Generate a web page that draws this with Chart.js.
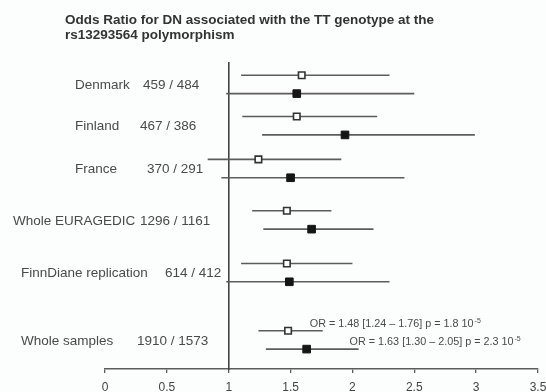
<!DOCTYPE html>
<html>
<head>
<meta charset="utf-8">
<script src="https://cdn.jsdelivr.net/npm/chart.js@4.4.0/dist/chart.umd.min.js"></script>
<style>
  html, body { margin: 0; padding: 0; background: #fcfdfd; }
  #wrap { width: 546px; height: 392px; position: relative; }
</style>
</head>
<body>
<div id="wrap"><canvas id="forest"></canvas></div>
<script>
const titleLines = ['Odds Ratio for DN associated with the TT genotype at the', 'rs13293564 polymorphism'];
const groups = ['Denmark', 'Finland', 'France', 'Whole EURAGEDIC', 'FinnDiane replication', 'Whole samples'];
const counts = ['459 / 484', '467 / 386', '370 / 291', '1296 / 1161', '614 / 412', '1910 / 1573'];
// row value on the y scale (0 = bottom, 10 = top)
const rowY = [9.3, 7.95, 6.55, 4.87, 3.15, 0.95];

// open squares (upper line of each pair)
const openOR = [1.59, 1.55, 1.24, 1.47, 1.47, 1.48];
const openLow = [1.10, 1.11, 0.83, 1.19, 1.10, 1.24];
const openHigh = [2.30, 2.20, 1.91, 1.83, 2.00, 1.76];

// filled squares (lower line of each pair)
const fillOR = [1.55, 1.94, 1.50, 1.67, 1.49, 1.63];
const fillLow = [0.98, 1.27, 0.94, 1.28, 0.98, 1.30];
const fillHigh = [2.50, 2.99, 2.42, 2.17, 2.30, 2.05];

const xTicks = [0, 0.5, 1, 1.5, 2, 2.5, 3, 3.5];
const xTickLabels = ['0', '0.5', '1', '1.5', '2', '2.5', '3', '3.5'];
const notes = [
  {text: 'OR = 1.48 [1.24 \u2013 1.76] p = 1.8 10', exp: '-5'},
  {text: 'OR = 1.63 [1.30 \u2013 2.05] p = 2.3 10', exp: '-5'}
];

const pairGap = 0.3;
const lineColor = '#5c5c5c';
const textColor = '#4a4a4a';
const fontFam = '"Liberation Sans", Arial, sans-serif';

var datasets = [];
// markers first so they sit on top of the lines
datasets.push({
  label: 'open',
  data: openOR.map(function (v, i) { return {x: v, y: rowY[i] + pairGap}; }),
  pointStyle: 'rect',
  pointRadius: 4.6,
  backgroundColor: '#ffffff',
  borderColor: '#333333',
  borderWidth: 1.6,
  order: 0
});
datasets.push({
  label: 'filled',
  data: fillOR.map(function (v, i) { return {x: v, y: rowY[i] - pairGap}; }),
  pointStyle: 'rect',
  pointRadius: 5.4,
  backgroundColor: '#151515',
  borderColor: '#151515',
  borderWidth: 1,
  order: 0
});
for (var i = 0; i < groups.length; i++) {
  datasets.push({
    data: [{x: openLow[i], y: rowY[i] + pairGap}, {x: openHigh[i], y: rowY[i] + pairGap}],
    showLine: true, borderColor: lineColor, borderWidth: 1.6, pointRadius: 0, order: 1
  });
  datasets.push({
    data: [{x: fillLow[i], y: rowY[i] - pairGap}, {x: fillHigh[i], y: rowY[i] - pairGap}],
    showLine: true, borderColor: lineColor, borderWidth: 1.6, pointRadius: 0, order: 1
  });
}

// name column and count column, in pixels left of the plot
const nameX = [75, 75, 75, 13, 21, 21];
const countX = [143, 140, 147, 140, 165, 137];

const textPlugin = {
  id: 'forestText',
  afterDraw: function (chart) {
    var ctx = chart.ctx;
    var xs = chart.scales.x, ys = chart.scales.y;
    ctx.save();
    ctx.fillStyle = '#333333';
    ctx.font = 'bold 13.5px ' + fontFam;
    ctx.textBaseline = 'middle';
    ctx.textAlign = 'left';
    ctx.fillText(titleLines[0], 65, 20);
    ctx.fillText(titleLines[1], 65, 35);

    ctx.fillStyle = textColor;
    ctx.font = '13.5px ' + fontFam;
    for (var i = 0; i < groups.length; i++) {
      var py = ys.getPixelForValue(rowY[i]) + 1;
      ctx.fillText(groups[i], nameX[i], py);
      ctx.fillText(counts[i], countX[i], py);
    }

    // OR notes next to the whole-sample lines
    var last = groups.length - 1;
    var anchors = [
      {x: xs.getPixelForValue(openHigh[last]) - 13, y: ys.getPixelForValue(rowY[last] + pairGap) - 7},
      {x: xs.getPixelForValue(fillHigh[last]) - 9, y: ys.getPixelForValue(rowY[last] - pairGap) - 7}
    ];
    for (var k = 0; k < notes.length; k++) {
      ctx.font = '10.8px ' + fontFam;
      ctx.fillText(notes[k].text, anchors[k].x, anchors[k].y);
      var w = ctx.measureText(notes[k].text).width;
      ctx.font = '7px ' + fontFam;
      ctx.fillText(notes[k].exp, anchors[k].x + w + 1, anchors[k].y - 3);
    }
    ctx.restore();
  }
};

new Chart(document.getElementById('forest'), {
  type: 'scatter',
  data: {datasets: datasets},
  options: {
    responsive: true,
    maintainAspectRatio: false,
    animation: false,
    layout: {padding: {left: 105, right: 8, top: 63, bottom: 0}},
    plugins: {legend: {display: false}, tooltip: {enabled: false}, title: {display: false}},
    scales: {
      x: {
        type: 'linear',
        min: 0,
        max: 3.5,
        afterBuildTicks: function (axis) { axis.ticks = xTicks.map(function (v) { return {value: v}; }); },
        afterFit: function (axis) { axis.paddingRight = 0; axis.height = 23; },
        ticks: {
          color: '#444444',
          font: {size: 12, family: fontFam},
          padding: 7,
          maxRotation: 0,
          callback: function (v, idx) { return xTickLabels[idx]; }
        },
        grid: {drawOnChartArea: false, drawTicks: true, tickLength: 4, color: lineColor, lineWidth: 1.3},
        border: {color: lineColor, width: 1.6}
      },
      y: {
        type: 'linear',
        min: 0,
        max: 10,
        position: {x: 1},
        ticks: {display: false},
        grid: {display: false},
        border: {color: '#444444', width: 1.6}
      }
    }
  },
  plugins: [textPlugin]
});
</script>
</body>
</html>
